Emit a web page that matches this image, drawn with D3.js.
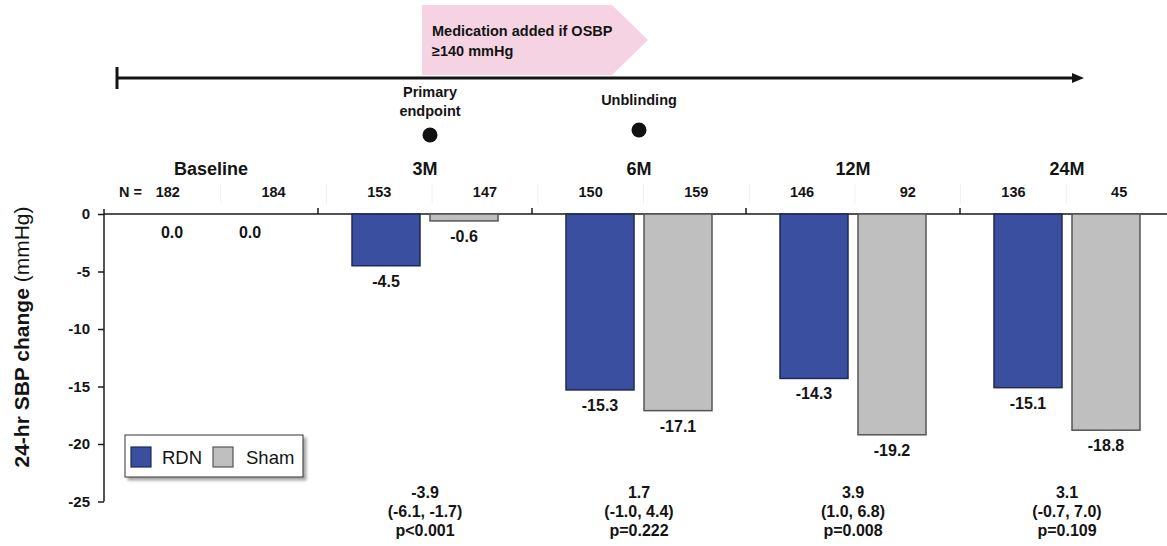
<!DOCTYPE html>
<html>
<head>
<meta charset="utf-8">
<script src="https://cdn.jsdelivr.net/npm/d3@7/dist/d3.min.js"></script>
<style>
  body { margin: 0; background: #fff; }
  svg { display: block; }
  text { font-family: "Liberation Sans", Arial, Helvetica, sans-serif; fill: #141414; }
</style>
</head>
<body>
<svg id="chart" width="1167" height="546"></svg>
<script>
// Visits and treatment arms
const timepoints = ["Baseline", "3M", "6M", "12M", "24M"];
const arms = ["RDN", "Sham"];

// Mean change in 24-hr systolic BP (mmHg)
const rdnChange  = [0.0, -4.5, -15.3, -14.3, -15.1];
const shamChange = [0.0, -0.6, -17.1, -19.2, -18.8];

// Patients analysed per visit
const rdnN  = [182, 153, 150, 146, 136];
const shamN = [184, 147, 159, 92, 45];

// Between-group difference (RDN - Sham) with 95% CI and p-value
const diffValue = [null, -3.9, 1.7, 3.9, 3.1];
const diffLow   = [null, -6.1, -1.0, 1.0, -0.7];
const diffHigh  = [null, -1.7, 4.4, 6.8, 7.0];
const diffP     = [null, "p<0.001", "p=0.222", "p=0.008", "p=0.109"];

// Y axis ticks
const yTicks = [0, -5, -10, -15, -20, -25];

const armColor = { RDN: "#3a4fa0", Sham: "#bfbfbf" };
const armStroke = { RDN: "#1f2a55", Sham: "#555555" };

const svg = d3.select("#chart");
const fmt = v => v.toFixed(1);

// Scales
const x = d3.scaleBand().domain(timepoints).range([104, 1174]).paddingInner(0).paddingOuter(0);
const xArm = d3.scaleBand().domain(arms).range([34, 180]).paddingInner(10 / 78).paddingOuter(0);
const y = d3.scaleLinear().domain([0, -25]).range([214, 501.5]);

const rows = timepoints.map((t, i) => ({
  t, i,
  values: [{ arm: "RDN", v: rdnChange[i], n: rdnN[i] }, { arm: "Sham", v: shamChange[i], n: shamN[i] }]
}));

// Column positions for the N row
const nCols = rows.flatMap(r => r.values.map(d => r.t + "|" + d.arm));
const xN = d3.scaleBand().domain(nCols).range([115, 1172]);

// ---- Timeline ----
const tl = svg.append("g");
const tlY = 78;
tl.append("path")
  .attr("d", `M422,5 L612,5 L648,40 L612,75 L422,75 Z`)
  .attr("fill", "#f5d3e3");
tl.append("text").attr("x", 432).attr("y", 36)
  .style("font-size", "14.5px").style("font-weight", "bold")
  .text("Medication added if OSBP");
tl.append("text").attr("x", 432).attr("y", 56)
  .style("font-size", "14.5px").style("font-weight", "bold")
  .text("\u2265140 mmHg");
tl.append("line").attr("x1", 117).attr("x2", 1074).attr("y1", tlY).attr("y2", tlY)
  .attr("stroke", "#151515").attr("stroke-width", 3);
tl.append("line").attr("x1", 117).attr("x2", 117).attr("y1", 67).attr("y2", 89)
  .attr("stroke", "#151515").attr("stroke-width", 3);
tl.append("path").attr("d", `M1072,${tlY - 5} L1084,${tlY} L1072,${tlY + 5} Z`).attr("fill", "#151515");

const milestones = [
  { t: "3M", dx: 5, lines: ["Primary", "endpoint"], dotY: 135 },
  { t: "6M", dx: 0, lines: ["Unblinding"], dotY: 130 }
];
milestones.forEach(m => {
  const cx = x(m.t) + x.bandwidth() / 2 + m.dx;
  m.lines.forEach((s, k) => {
    tl.append("text").attr("x", cx).attr("y", (m.lines.length === 2 ? 97 : 105) + k * 19)
      .attr("text-anchor", "middle").style("font-size", "14.5px").style("font-weight", "bold").text(s);
  });
  tl.append("circle").attr("cx", cx).attr("cy", m.dotY).attr("r", 7.5).attr("fill", "#111");
});

// ---- Axes ----
const yAxis = d3.axisLeft(y).tickValues(yTicks).tickSize(6).tickPadding(8).tickFormat(d => String(d));
const gy = svg.append("g").attr("transform", "translate(104,0)").call(yAxis);
gy.select(".domain").attr("d", `M0,209 V${y(-25)}`).attr("stroke", "#1a1a1a").attr("stroke-width", 1.5);
gy.selectAll(".tick line").attr("stroke", "#1a1a1a").attr("stroke-width", 1.5);
gy.selectAll(".tick text").style("font-size", "15px").style("font-weight", "bold")
  .style("font-family", "'Liberation Sans', Arial, sans-serif").attr("fill", "#141414");

const xAxis = d3.axisTop(x).tickValues(timepoints.slice(1)).tickSize(6).tickFormat("").offset(0);
const gx = svg.append("g").attr("transform", `translate(0,${y(0)})`).call(xAxis);
gx.select(".domain").attr("d", `M104,0 H1167`).attr("stroke", "#1a1a1a").attr("stroke-width", 1.5);
gx.selectAll(".tick").attr("transform", d => `translate(${x(d)},0)`);
gx.selectAll(".tick line").attr("stroke", "#1a1a1a").attr("stroke-width", 1.5);

// Y axis title
const yTitle = svg.append("text")
  .attr("transform", "translate(29,337) rotate(-90)")
  .attr("text-anchor", "middle")
  .style("font-size", "21px");
yTitle.append("tspan").style("font-weight", "bold").text("24-hr SBP change ");
yTitle.append("tspan").style("font-weight", "normal").text("(mmHg)");

// ---- Headers: visit names and N row ----
svg.append("g").selectAll("text").data(timepoints).join("text")
  .attr("x", d => x(d) + x.bandwidth() / 2)
  .attr("y", 175)
  .attr("text-anchor", "middle")
  .style("font-size", "18px").style("font-weight", "bold")
  .text(d => d);

// faint table rules in the N row
svg.append("g").selectAll("line").data(nCols.slice(1)).join("line")
  .attr("x1", d => xN(d)).attr("x2", d => xN(d)).attr("y1", 184).attr("y2", 204)
  .attr("stroke", "#f0f0f0").attr("stroke-width", 1);

svg.append("text").attr("x", 142).attr("y", 197).attr("text-anchor", "end")
  .style("font-size", "14.5px").style("font-weight", "bold").text("N =");

const nData = rows.flatMap(r => r.values.map(d => ({ key: r.t + "|" + d.arm, n: d.n })));
svg.append("g").selectAll("text").data(nData).join("text")
  .attr("x", d => xN(d.key) + xN.bandwidth() / 2)
  .attr("y", 197)
  .attr("text-anchor", "middle")
  .style("font-size", "14.5px").style("font-weight", "bold")
  .text(d => d.n);

// ---- Bars ----
const gBars = svg.append("g").selectAll("g").data(rows).join("g")
  .attr("transform", d => `translate(${x(d.t)},0)`);

gBars.selectAll("rect").data(d => d.values).join("rect")
  .attr("x", d => xArm(d.arm))
  .attr("y", y(0))
  .attr("width", xArm.bandwidth())
  .attr("height", d => y(d.v) - y(0))
  .attr("fill", d => armColor[d.arm])
  .attr("stroke", d => armStroke[d.arm])
  .attr("stroke-width", 1.5);

gBars.selectAll("text").data(d => d.values).join("text")
  .attr("x", d => xArm(d.arm) + xArm.bandwidth() / 2)
  .attr("y", d => y(d.v) + (d.v === 0 ? 23.5 : 21))
  .attr("text-anchor", "middle")
  .style("font-size", "16px").style("font-weight", "bold")
  .text(d => fmt(d.v));

// ---- Between-group differences ----
const diffRows = timepoints.map((t, i) => ({ t, v: diffValue[i], lo: diffLow[i], hi: diffHigh[i], p: diffP[i] }))
  .filter(d => d.v !== null);
const gDiff = svg.append("g").selectAll("text").data(diffRows).join("text")
  .attr("text-anchor", "middle")
  .style("font-size", "16px").style("font-weight", "bold");
gDiff.each(function (d) {
  const cx = x(d.t) + x.bandwidth() / 2;
  const lines = [fmt(d.v), `(${fmt(d.lo)}, ${fmt(d.hi)})`, d.p];
  d3.select(this).selectAll("tspan").data(lines).join("tspan")
    .attr("x", cx).attr("y", (s, k) => 498 + k * 19).text(s => s);
});

// ---- Legend ----
const defs = svg.append("defs");
const f = defs.append("filter").attr("id", "shadow").attr("x", "-10%").attr("y", "-30%").attr("width", "130%").attr("height", "180%");
f.append("feDropShadow").attr("dx", 3).attr("dy", 3).attr("stdDeviation", 1.5).attr("flood-color", "#000").attr("flood-opacity", 0.35);

const lg = svg.append("g").attr("transform", "translate(125,435)");
lg.append("rect").attr("width", 178).attr("height", 42).attr("fill", "#fff")
  .attr("stroke", "#333").attr("stroke-width", 1).attr("filter", "url(#shadow)");
const legendItems = arms.map((a, i) => ({ arm: a, sx: [6, 88][i], tx: [37, 121][i] }));
lg.selectAll("rect.sw").data(legendItems).join("rect").attr("class", "sw")
  .attr("x", d => d.sx).attr("y", 12).attr("width", 20).attr("height", 20)
  .attr("fill", d => armColor[d.arm]).attr("stroke", d => armStroke[d.arm]).attr("stroke-width", 1.2);
lg.selectAll("text").data(legendItems).join("text")
  .attr("x", d => d.tx).attr("y", 29)
  .style("font-size", "18.5px")
  .text(d => d.arm);
</script>
</body>
</html>
